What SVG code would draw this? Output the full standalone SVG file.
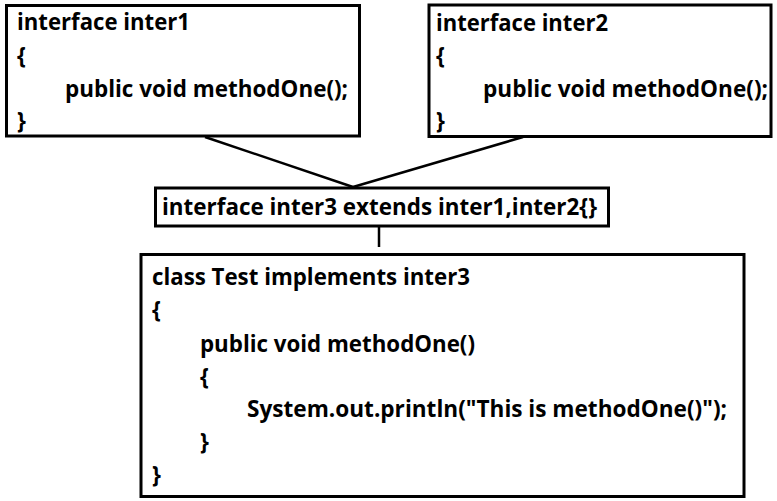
<svg xmlns="http://www.w3.org/2000/svg" width="777" height="501" viewBox="0 0 777 501">
<style>
.box{fill:#fff;stroke:#000;stroke-width:3}
.t{font-family:"Open Sans","Liberation Sans",sans-serif;font-weight:bold;font-size:22.5px;fill:#000}
.c{stroke:#000;stroke-width:2.5;fill:none}
</style>
<rect width="777" height="501" fill="#fff"/>
<g id="connectors">
<line class="c" x1="205" y1="137" x2="353" y2="187"/>
<line class="c" x1="523" y1="137" x2="353" y2="187"/>
<line class="c" x1="379" y1="227" x2="379" y2="247"/>
</g>
<g id="inter1">
<rect class="box" x="6.5" y="5.5" width="353" height="130.5"/>
<text class="t" x="17" y="30" textLength="173" lengthAdjust="spacingAndGlyphs">interface inter1</text>
<text class="t" x="17" y="64">{</text>
<text class="t" x="65" y="97" textLength="283" lengthAdjust="spacingAndGlyphs">public void methodOne();</text>
<text class="t" x="17" y="129">}</text>
</g>
<g id="inter2">
<rect class="box" x="429" y="5" width="342" height="131.5"/>
<text class="t" x="436" y="31" textLength="172" lengthAdjust="spacingAndGlyphs">interface inter2</text>
<text class="t" x="436" y="64">{</text>
<text class="t" x="483" y="97" textLength="285" lengthAdjust="spacingAndGlyphs">public void methodOne();</text>
<text class="t" x="436" y="129">}</text>
</g>
<g id="inter3">
<rect class="box" x="155.5" y="188" width="453" height="38"/>
<text class="t" x="162" y="215" textLength="435" lengthAdjust="spacingAndGlyphs">interface inter3 extends inter1,inter2{}</text>
</g>
<g id="test">
<rect class="box" x="141" y="254.5" width="603" height="242"/>
<text class="t" x="152" y="285" textLength="318" lengthAdjust="spacingAndGlyphs">class Test implements inter3</text>
<text class="t" x="152" y="318">{</text>
<text class="t" x="200" y="352" textLength="275" lengthAdjust="spacingAndGlyphs">public void methodOne()</text>
<text class="t" x="200" y="385">{</text>
<text class="t" x="247" y="417" textLength="480" lengthAdjust="spacingAndGlyphs">System.out.println("This is methodOne()");</text>
<text class="t" x="200" y="450">}</text>
<text class="t" x="152" y="483">}</text>
</g>
</svg>
